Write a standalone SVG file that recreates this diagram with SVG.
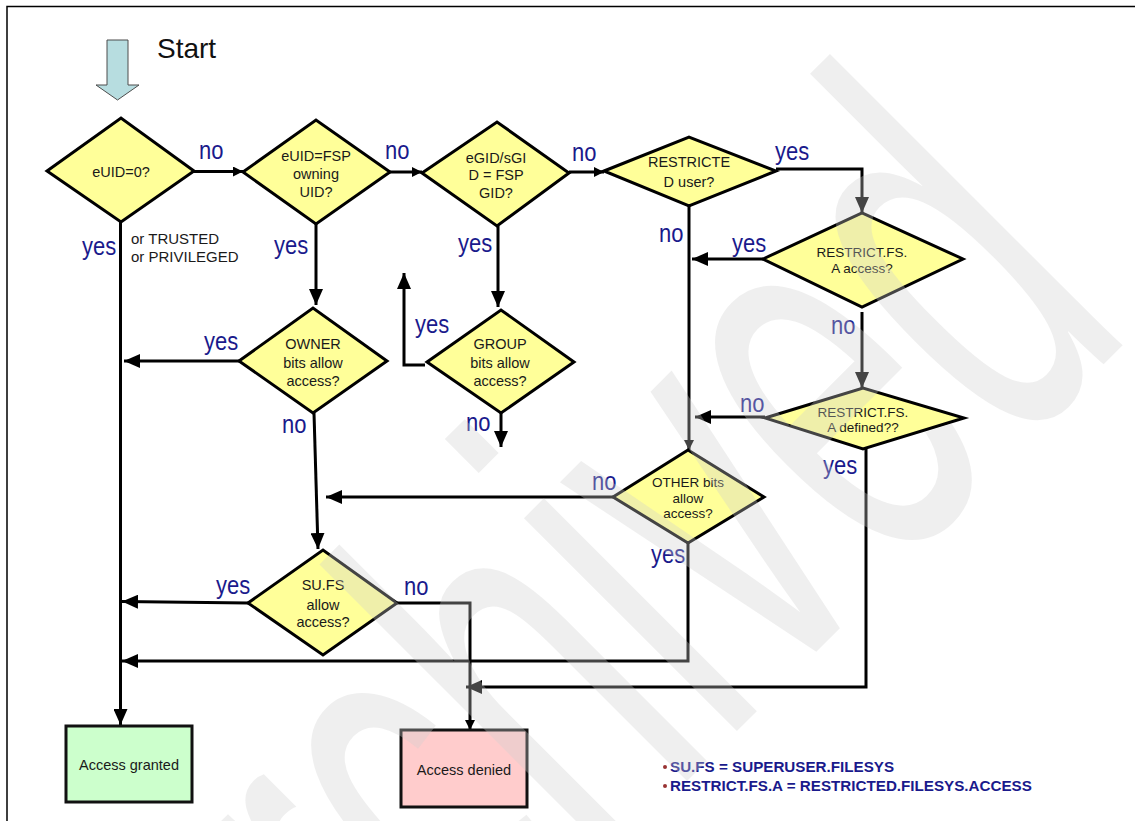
<svg xmlns="http://www.w3.org/2000/svg" width="1135" height="821" viewBox="0 0 1135 821">
  <style>
    .dia { fill: #ffff99; stroke: #000; stroke-width: 3; stroke-linejoin: miter; }
    .box { stroke: #111; stroke-width: 3; }
    .t { font-family: "Liberation Sans", Arial, sans-serif; font-size: 14.5px; fill: #1a1a1a; text-anchor: middle; }
    .ts { font-size: 13.5px; }
    .lbl { font-family: "Liberation Sans", Arial, sans-serif; font-size: 22px; fill: #1a1a8c; }
    .ln { fill: none; stroke: #000; stroke-width: 3; }
    .big { marker-end: url(#ah); }
    .sm { marker-end: url(#ahs); }
    .leg { font-family: "Liberation Sans", Arial, sans-serif; font-size: 15.2px; font-weight: bold; fill: #1a1a8c; }
    .bul { fill: #993333; }
  </style>
  <defs>
    <marker id="ah" markerUnits="userSpaceOnUse" markerWidth="16" markerHeight="14" refX="16" refY="7" orient="auto">
      <path d="M0,0 L16,7 L0,14 z" fill="#000"/>
    </marker>
    <marker id="ahs" markerUnits="userSpaceOnUse" markerWidth="10" markerHeight="10" refX="10" refY="5" orient="auto">
      <path d="M0,0 L10,5 L0,10 z" fill="#000"/>
    </marker>
  </defs>

  <rect width="1135" height="821" fill="#fff"/>
  <!-- page frame: top and left rules only -->
  <path d="M7,821 V6.5 H1135" fill="none" stroke="#000" stroke-width="1.5"/>

  <!-- start marker -->
  <g id="start">
    <polygon points="107,40 128,40 128,85 139,85 117.5,100 96,85 107,85" fill="#b7dde0" stroke="#4d4d4d" stroke-width="1"/>
    <text x="157" y="58" font-family="Liberation Sans, Arial, sans-serif" font-size="28" fill="#111">Start</text>
  </g>

  <!-- connectors -->
  <g id="connectors">
    <path class="ln sm" d="M194,171.5 H243"/>
    <path class="ln sm" d="M390,172 H422"/>
    <path class="ln sm" d="M569,172 H604"/>
    <path class="ln big" d="M776,169 H862 V213"/>
    <path class="ln sm" d="M689,206 V450"/>
    <path class="ln big" d="M763,259 H692"/>
    <path class="ln big" d="M862,312 V388"/>
    <path class="ln big" d="M765,417 H695"/>
    <path class="ln big" d="M866,448 V687 H466"/>
    <path class="ln big" d="M120.5,222 V725"/>
    <path class="ln big" d="M316,224 V305"/>
    <path class="ln big" d="M498,226 V307"/>
    <path class="ln big" d="M239,361 H124"/>
    <path class="ln big" d="M425,365 H404 V273"/>
    <path class="ln big" d="M501,413 V447"/>
    <path class="ln big" d="M314,413 L318,549"/>
    <path class="ln big" d="M613,497 H326"/>
    <path class="ln big" d="M688,543 V661 H122"/>
    <path class="ln big" d="M248,603 L122,601.5"/>
    <path class="ln sm" d="M397,603 H470 V730"/>
  </g>

  <!-- decisions -->
  <g id="n-euid0">
    <polygon class="dia" points="47,171 121,118 194,171 121,222"/>
    <text class="t" x="121" y="177">eUID=0?</text>
  </g>
  <g id="n-owner-uid">
    <polygon class="dia" points="243,172 316,120 390,172 316,224"/>
    <text class="t" x="316" y="161">eUID=FSP</text>
    <text class="t" x="316" y="179">owning</text>
    <text class="t" x="316" y="197">UID?</text>
  </g>
  <g id="n-gid">
    <polygon class="dia" points="422,173 497,122 569,173 497,226"/>
    <text class="t" x="496" y="163">eGID/sGI</text>
    <text class="t" x="496" y="180">D = FSP</text>
    <text class="t" x="496" y="198">GID?</text>
  </g>
  <g id="n-restricted">
    <polygon class="dia" points="604,171 689,137 776,171 689,206"/>
    <text class="t" x="689" y="167" font-size="15.5">RESTRICTE</text>
    <text class="t" x="689" y="187" font-size="15.5">D user?</text>
  </g>
  <g id="n-rfsa-access">
    <polygon class="dia" points="763,259 862,213 963,259 862,307"/>
    <text class="t ts" x="862" y="257">RESTRICT.FS.</text>
    <text class="t ts" x="862" y="273">A access?</text>
  </g>
  <g id="n-rfsa-defined">
    <polygon class="dia" points="765,418 863,388 964,418 863,449"/>
    <text class="t ts" x="863" y="417">RESTRICT.FS.</text>
    <text class="t ts" x="863" y="432">A defined??</text>
  </g>
  <g id="n-owner-bits">
    <polygon class="dia" points="239,361 313,308 387,361 313,413"/>
    <text class="t" x="313" y="349">OWNER</text>
    <text class="t" x="313" y="368">bits allow</text>
    <text class="t" x="313" y="386">access?</text>
  </g>
  <g id="n-group-bits">
    <polygon class="dia" points="427,362 501,310 574,362 501,413"/>
    <text class="t" x="500" y="349">GROUP</text>
    <text class="t" x="500" y="368">bits allow</text>
    <text class="t" x="500" y="386">access?</text>
  </g>
  <g id="n-other-bits">
    <polygon class="dia" points="613,497 688,450 764,497 688,543"/>
    <text class="t ts" x="688" y="487">OTHER bits</text>
    <text class="t ts" x="688" y="503">allow</text>
    <text class="t ts" x="688" y="518">access?</text>
  </g>
  <g id="n-sufs">
    <polygon class="dia" points="248,603 323,550 397,603 323,655"/>
    <text class="t" x="323" y="590">SU.FS</text>
    <text class="t" x="323" y="610">allow</text>
    <text class="t" x="323" y="627">access?</text>
  </g>

  <!-- outcomes -->
  <g id="n-granted">
    <rect class="box" x="66" y="726" width="126" height="76" fill="#ccffcc"/>
    <text class="t" x="129" y="770">Access granted</text>
  </g>
  <g id="n-denied">
    <rect class="box" x="401" y="730" width="126" height="77" fill="#ffcccc"/>
    <text class="t" x="464" y="775">Access denied</text>
  </g>

  <!-- branch labels -->
  <g id="labels">
    <text class="lbl" transform="translate(199,159) scale(1,1.2)">no</text>
    <text class="lbl" transform="translate(385,159) scale(1,1.2)">no</text>
    <text class="lbl" transform="translate(572,161) scale(1,1.2)">no</text>
    <text class="lbl" transform="translate(775,160) scale(1,1.2)">yes</text>
    <text class="lbl" transform="translate(659,242) scale(1,1.2)">no</text>
    <text class="lbl" transform="translate(732,252) scale(1,1.2)">yes</text>
    <text class="lbl" transform="translate(831,334) scale(1,1.2)">no</text>
    <text class="lbl" transform="translate(740,412) scale(1,1.2)">no</text>
    <text class="lbl" transform="translate(823,474) scale(1,1.2)">yes</text>
    <text class="lbl" transform="translate(82,255) scale(1,1.2)">yes</text>
    <text class="lbl" transform="translate(274,254) scale(1,1.2)">yes</text>
    <text class="lbl" transform="translate(458,252) scale(1,1.2)">yes</text>
    <text class="lbl" transform="translate(204,350) scale(1,1.2)">yes</text>
    <text class="lbl" transform="translate(415,333) scale(1,1.2)">yes</text>
    <text class="lbl" transform="translate(282,433) scale(1,1.2)">no</text>
    <text class="lbl" transform="translate(466,431) scale(1,1.2)">no</text>
    <text class="lbl" transform="translate(592,490) scale(1,1.2)">no</text>
    <text class="lbl" transform="translate(651,563) scale(1,1.2)">yes</text>
    <text class="lbl" transform="translate(404,595) scale(1,1.2)">no</text>
    <text class="lbl" transform="translate(216,594) scale(1,1.2)">yes</text>
    <text font-family="Liberation Sans, Arial, sans-serif" font-size="15" fill="#1a1a1a">
      <tspan x="131" y="244">or TRUSTED</tspan>
      <tspan x="131" y="262">or PRIVILEGED</tspan>
    </text>
  </g>

  <!-- abbreviations -->
  <g id="legend">
    <circle class="bul" cx="665" cy="767" r="2"/>
    <text class="leg" x="670" y="772">SU.FS = SUPERUSER.FILESYS</text>
    <circle class="bul" cx="665" cy="786" r="2"/>
    <text class="leg" x="670" y="791">RESTRICT.FS.A = RESTRICTED.FILESYS.ACCESS</text>
  </g>

  <!-- translucent condensed stamp across the page -->
  <text transform="translate(256,1212) rotate(-45) scale(0.562,1)" font-family="Liberation Sans, Arial, sans-serif" font-size="570" fill="#cdcdcd" fill-opacity="0.33">Archived</text>
</svg>
